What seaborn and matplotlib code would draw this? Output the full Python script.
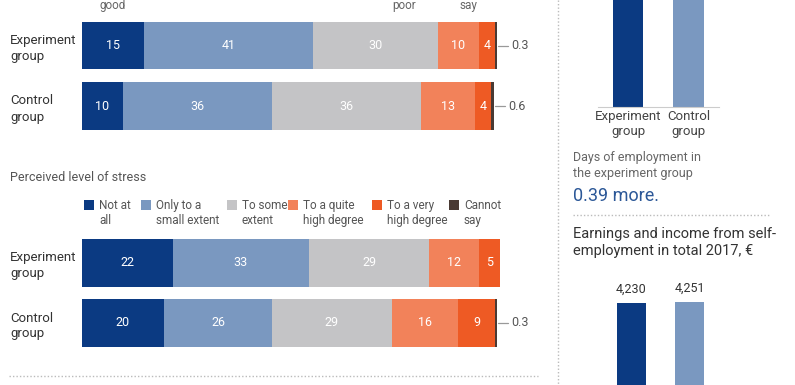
import numpy as np
import pandas as pd
import matplotlib
matplotlib.use("Agg")
import matplotlib.pyplot as plt
import seaborn as sns

# --- data -------------------------------------------------------------
groups = ["Experiment\ngroup", "Control\ngroup"]

health_exp = [15, 41, 30, 10, 4, 0.3]
health_ctrl = [10, 36, 36, 13, 4, 0.6]
health_legend_tail = ["good", "poor", "say"]   # only the bottom line of this legend shows

stress_labels = ["Not at\nall", "Only to a\nsmall extent", "To some\nextent",
                 "To a quite\nhigh degree", "To a very\nhigh degree", "Cannot\nsay"]
stress_exp = [22, 33, 29, 12, 5, 0]
stress_ctrl = [20, 26, 29, 16, 9, 0.3]

employment_days = [49.64, 49.25]
earnings = [4230, 4251]

# --- style ------------------------------------------------------------
seg_colors = ["#0b3a82", "#7a98c0", "#c4c4c6", "#f2825a", "#ee5a24", "#4a3a34"]
group_colors = seg_colors[:2]
W, H = 795, 385

sns.set_style("white")
plt.rcParams["font.family"] = ["Roboto", "DejaVu Sans"]

fig = plt.figure(figsize=(W / 100, H / 100), dpi=100)


def px_axes(x0, y0, x1, y1):
    """axes from pixel box (top-left origin)"""
    return fig.add_axes([x0 / W, 1 - y1 / H, (x1 - x0) / W, (y1 - y0) / H])


def ftext(x, y, s, **kw):
    fig.text(x / W, 1 - y / H, s, **kw)


def fline(xs, ys, **kw):
    fig.add_artist(plt.Line2D([x / W for x in xs], [1 - y / H for y in ys],
                              transform=fig.transFigure, **kw))


def stacked(ax, exp, ctrl, width):
    df = pd.DataFrame([exp, ctrl], index=groups)
    cum = df.cumsum(axis=1)
    for i in reversed(range(df.shape[1])):
        sns.barplot(x=cum.iloc[:, i].values, y=groups, orient="h", color=seg_colors[i],
                    saturation=1, width=width, linewidth=0, ax=ax)
    for r, g in enumerate(groups):
        vals = df.loc[g].values
        ends = cum.loc[g].values
        for v, e in zip(vals, ends):
            if v >= 3:
                ax.text(e - v / 2, r, f"{v:g}", color="white", ha="center", va="center",
                        fontsize=9)
        last = vals[-1]
        if 0 < last < 1:
            end = ends[-1]
            ax.plot([end + 0.4, end + 2.6], [r, r], color="#999999", lw=0.9, clip_on=False)
            ax.text(end + 3.6, r, f"{last:g}", color="#555555", ha="left", va="center",
                    fontsize=9)
    ax.set_xlim(0, 101)
    ax.set_ylim(1.5, -0.5)
    ax.set_xticks([])
    ax.set_xlabel("")
    ax.set_ylabel("")
    sns.despine(ax=ax, left=True, bottom=True)
    ax.tick_params(axis="y", length=0, pad=51.5, labelsize=9.5, labelcolor="#333333")
    for lab in ax.get_yticklabels():
        lab.set_ha("left")
        lab.set_linespacing(1.3)


# --- health (top, cut) ------------------------------------------------
ax1 = px_axes(81.5, 15.25, 81.5 + 101 * 4.14, 136.25)
stacked(ax1, health_exp, health_ctrl, 0.78)
for x, s in zip([100, 392, 460], health_legend_tail):
    ftext(x, 9, s, fontsize=8.5, color="#666666", va="baseline", ha="left")

# --- stress -----------------------------------------------------------
ftext(10, 178, "Perceived level of stress", fontsize=9, color="#555555", va="center")
for x, lab, c in zip([84, 141, 227, 288, 372, 449], stress_labels, seg_colors):
    fig.add_artist(plt.Rectangle((x / W, 1 - 210 / H), 9.5 / W, 9.5 / H,
                                 transform=fig.transFigure, color=c, lw=0))
    ftext(x + 15, 199, lab, fontsize=8.5, color="#555555", va="top", ha="left",
          linespacing=1.25)

ax2 = px_axes(81.5, 233, 81.5 + 101 * 4.14, 353)
stacked(ax2, stress_exp, stress_ctrl, 0.8)

# --- days of employment (cut at top) ----------------------------------
ax3 = px_axes(597.75, -100, 718.75, 107)
sns.barplot(x=groups, y=employment_days, hue=groups, palette=group_colors,
            saturation=1, width=0.5, linewidth=0, legend=False, ax=ax3)
ax3.set_ylim(0, 52)
ax3.set_yticks([])
sns.despine(ax=ax3, left=True)
ax3.spines["bottom"].set_color("#cccccc")
ax3.tick_params(axis="x", length=0, pad=2, labelsize=9.5, labelcolor="#444444")
for lab in ax3.get_xticklabels():
    lab.set_linespacing(1.2)

ftext(573, 151, "Days of employment in\nthe experiment group", fontsize=9,
      color="#666666", va="top", linespacing=1.3)
diff = employment_days[0] - employment_days[1]
ftext(573, 196, f"{diff:.2f} more.", fontsize=13, color="#2b5797", va="center")

# --- earnings (cut at bottom) -----------------------------------------
ftext(573, 227, "Earnings and income from self-\nemployment in total 2017, €",
      fontsize=10.5, color="#333333", va="top", linespacing=1.3)
ax4 = px_axes(602.5, 280, 718.5, 566)
sns.barplot(x=groups, y=earnings, hue=groups, palette=group_colors,
            saturation=1, width=0.5, linewidth=0, legend=False, ax=ax4)
ax4.set_ylim(0, 4600)
ax4.set_xticks([])
ax4.set_yticks([])
sns.despine(ax=ax4, left=True, bottom=True)
for i, v in enumerate(earnings):
    ax4.annotate(f"{v:,}", (i, v), xytext=(0, 5), textcoords="offset points",
                 ha="center", va="bottom", fontsize=9, color="#333333")

# --- dotted separators ------------------------------------------------
dots = dict(color="#bbbbbb", lw=1, linestyle=(0, (1, 1.5)))
fline([558, 558], [0, 385], **dots)
fline([9, 538], [376, 376], **dots)
fline([573, 770], [215, 215], **dots)

fig.savefig("out.png", dpi=100)
